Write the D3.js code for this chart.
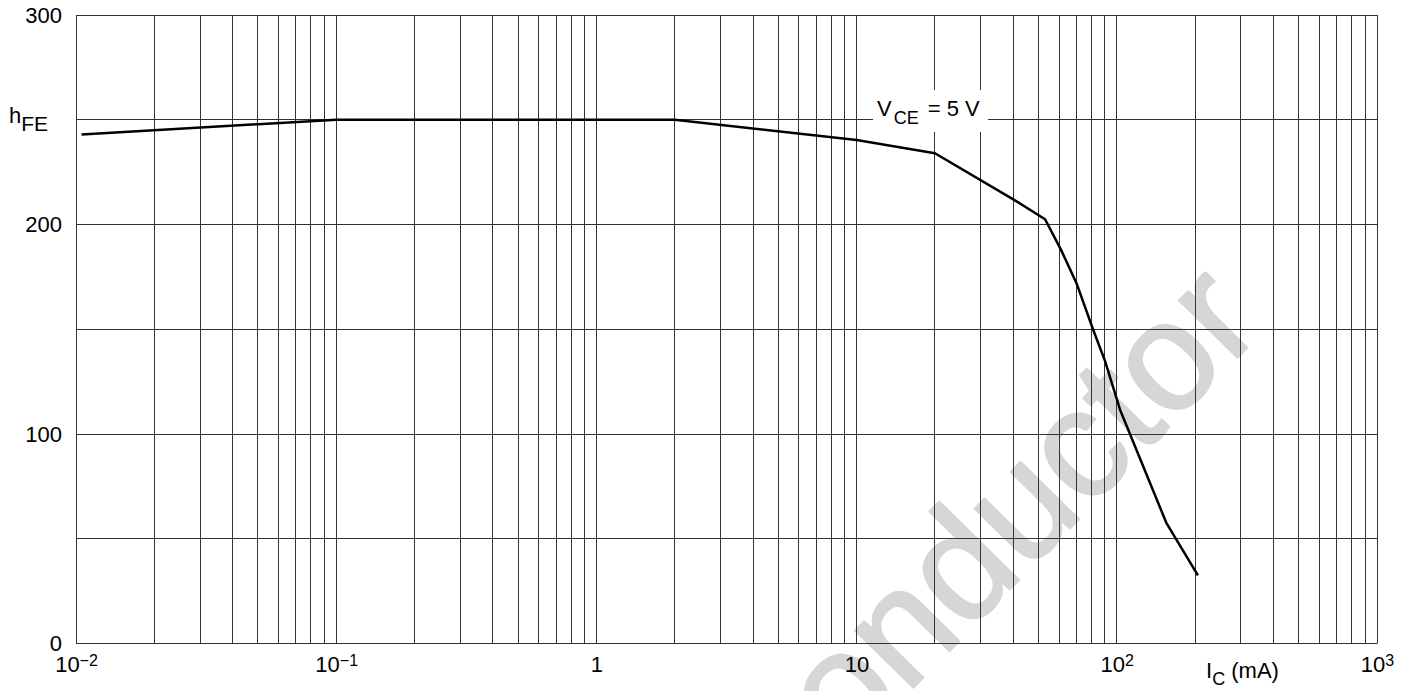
<!DOCTYPE html>
<html>
<head>
<meta charset="utf-8">
<script src="https://cdn.jsdelivr.net/npm/d3@7"></script>
<style>
  html, body { margin: 0; padding: 0; background: #fff; }
  svg { display: block; }
  text { font-family: "Liberation Sans", Arial, sans-serif; fill: #000; }
</style>
</head>
<body>
<svg id="chart" width="1411" height="691"></svg>
<script>
// ---- data ----
const icValues  = [0.0105, 0.1, 2, 10, 20, 40, 53, 61, 70, 81, 90, 103, 155, 205];   // I_C (mA)
const hfeValues = [243, 250, 250, 240.3, 234, 212, 202.5, 188, 172, 150, 135, 111.5, 57.6, 32.5];
const xTickValues = [0.01, 0.1, 1, 10, 100, 1000];
const xTickBase   = ["10", "10", "1", "10", "10", "10"];
const xTickExp    = ["\u22122", "\u22121", "", "", "2", "3"];
const yTickValues = [0, 100, 200, 300];
const yGridValues = [0, 50, 100, 150, 200, 250, 300];
const curveLabel = { main: "V", sub: "CE", rest: " = 5 V" };
const watermarkText = "onductor";

(function () {
// ---- layout ----
const svg = d3.select("#chart");
const pL = 76, pR = 1377, pT = 15, pB = 643.5;
const x = d3.scaleLog().domain([0.01, 1000]).range([pL, pR]);
const y = d3.scaleLinear().domain([0, 300]).range([pB, pT]);

// watermark (behind grid)
svg.append("text")
  .attr("transform", "translate(846,756) rotate(-45.5)")
  .attr("font-size", 154)
  .style("fill", "#d6d6d6")
  .style("stroke", "#d6d6d6")
  .style("stroke-width", 2.5)
  .style("stroke-linejoin", "round")
  .text(watermarkText);

// vertical gridlines: 1..9 x 10^k
const vGrid = [];
for (let k = -2; k <= 2; k++) for (let m = 1; m <= 9; m++) vGrid.push(m * Math.pow(10, k));
vGrid.push(1000);
const crisp = v => Math.round(v - 0.5) + 0.5;

const grid = svg.append("g").attr("stroke", "#333").attr("stroke-width", 1);
grid.selectAll("line.v").data(vGrid).join("line")
  .attr("class", "v")
  .attr("x1", d => crisp(x(d))).attr("x2", d => crisp(x(d)))
  .attr("y1", pT).attr("y2", pB);
grid.selectAll("line.h").data(yGridValues).join("line")
  .attr("class", "h")
  .attr("x1", pL).attr("x2", pR)
  .attr("y1", d => crisp(y(d))).attr("y2", d => crisp(y(d)));

// label with white background
svg.append("rect").attr("x", 873).attr("y", 90).attr("width", 115).attr("height", 42).attr("fill", "#fff");
const lab = svg.append("text").attr("x", 877).attr("y", 116).attr("font-size", 22);
lab.append("tspan").text(curveLabel.main);
lab.append("tspan").attr("font-size", 18).attr("dx", 2).attr("dy", 8).text(curveLabel.sub);
lab.append("tspan").attr("dx", 3).attr("dy", -8).text(curveLabel.rest);

// curve
const pts = icValues.map((v, i) => [v, hfeValues[i]]);
svg.append("path")
  .datum(pts)
  .attr("fill", "none")
  .attr("stroke", "#000")
  .attr("stroke-width", 2.5)
  .attr("stroke-linejoin", "round")
  .attr("d", d3.line().x(d => x(d[0])).y(d => y(d[1])));

// y axis labels
const yAxis = svg.append("g")
  .attr("transform", `translate(${pL},0)`)
  .call(d3.axisLeft(y).tickValues(yTickValues).tickSize(0).tickPadding(14));
yAxis.select(".domain").remove();
yAxis.selectAll("text").attr("font-size", 22).style("font-family", "'Liberation Sans', Arial, sans-serif");

// x axis labels with superscripts
const xAxis = svg.append("g")
  .attr("transform", `translate(0,${pB})`)
  .call(d3.axisBottom(x).tickValues(xTickValues).tickSize(0).tickPadding(13).tickFormat(() => ""));
xAxis.select(".domain").remove();
xAxis.selectAll("text").each(function(d, i) {
  const t = d3.select(this)
    .attr("font-size", 22)
    .style("font-family", "'Liberation Sans', Arial, sans-serif");
  t.text(null);
  t.append("tspan").text(xTickBase[i]);
  if (xTickExp[i]) t.append("tspan").attr("font-size", 16).attr("dy", "-0.4em").text(xTickExp[i]);
});

// y axis title
const yt = svg.append("text").attr("x", 9).attr("y", 123).attr("font-size", 22);
yt.append("tspan").text("h");
yt.append("tspan").attr("font-size", 21).attr("dy", 8).text("FE");

// x axis title
const xt = svg.append("text").attr("x", 1206).attr("y", 678).attr("font-size", 22);
xt.append("tspan").text("I");
xt.append("tspan").attr("font-size", 18).attr("dy", 7).text("C");
xt.append("tspan").attr("dy", -7).text(" (mA)");
})();
</script>
</body>
</html>
